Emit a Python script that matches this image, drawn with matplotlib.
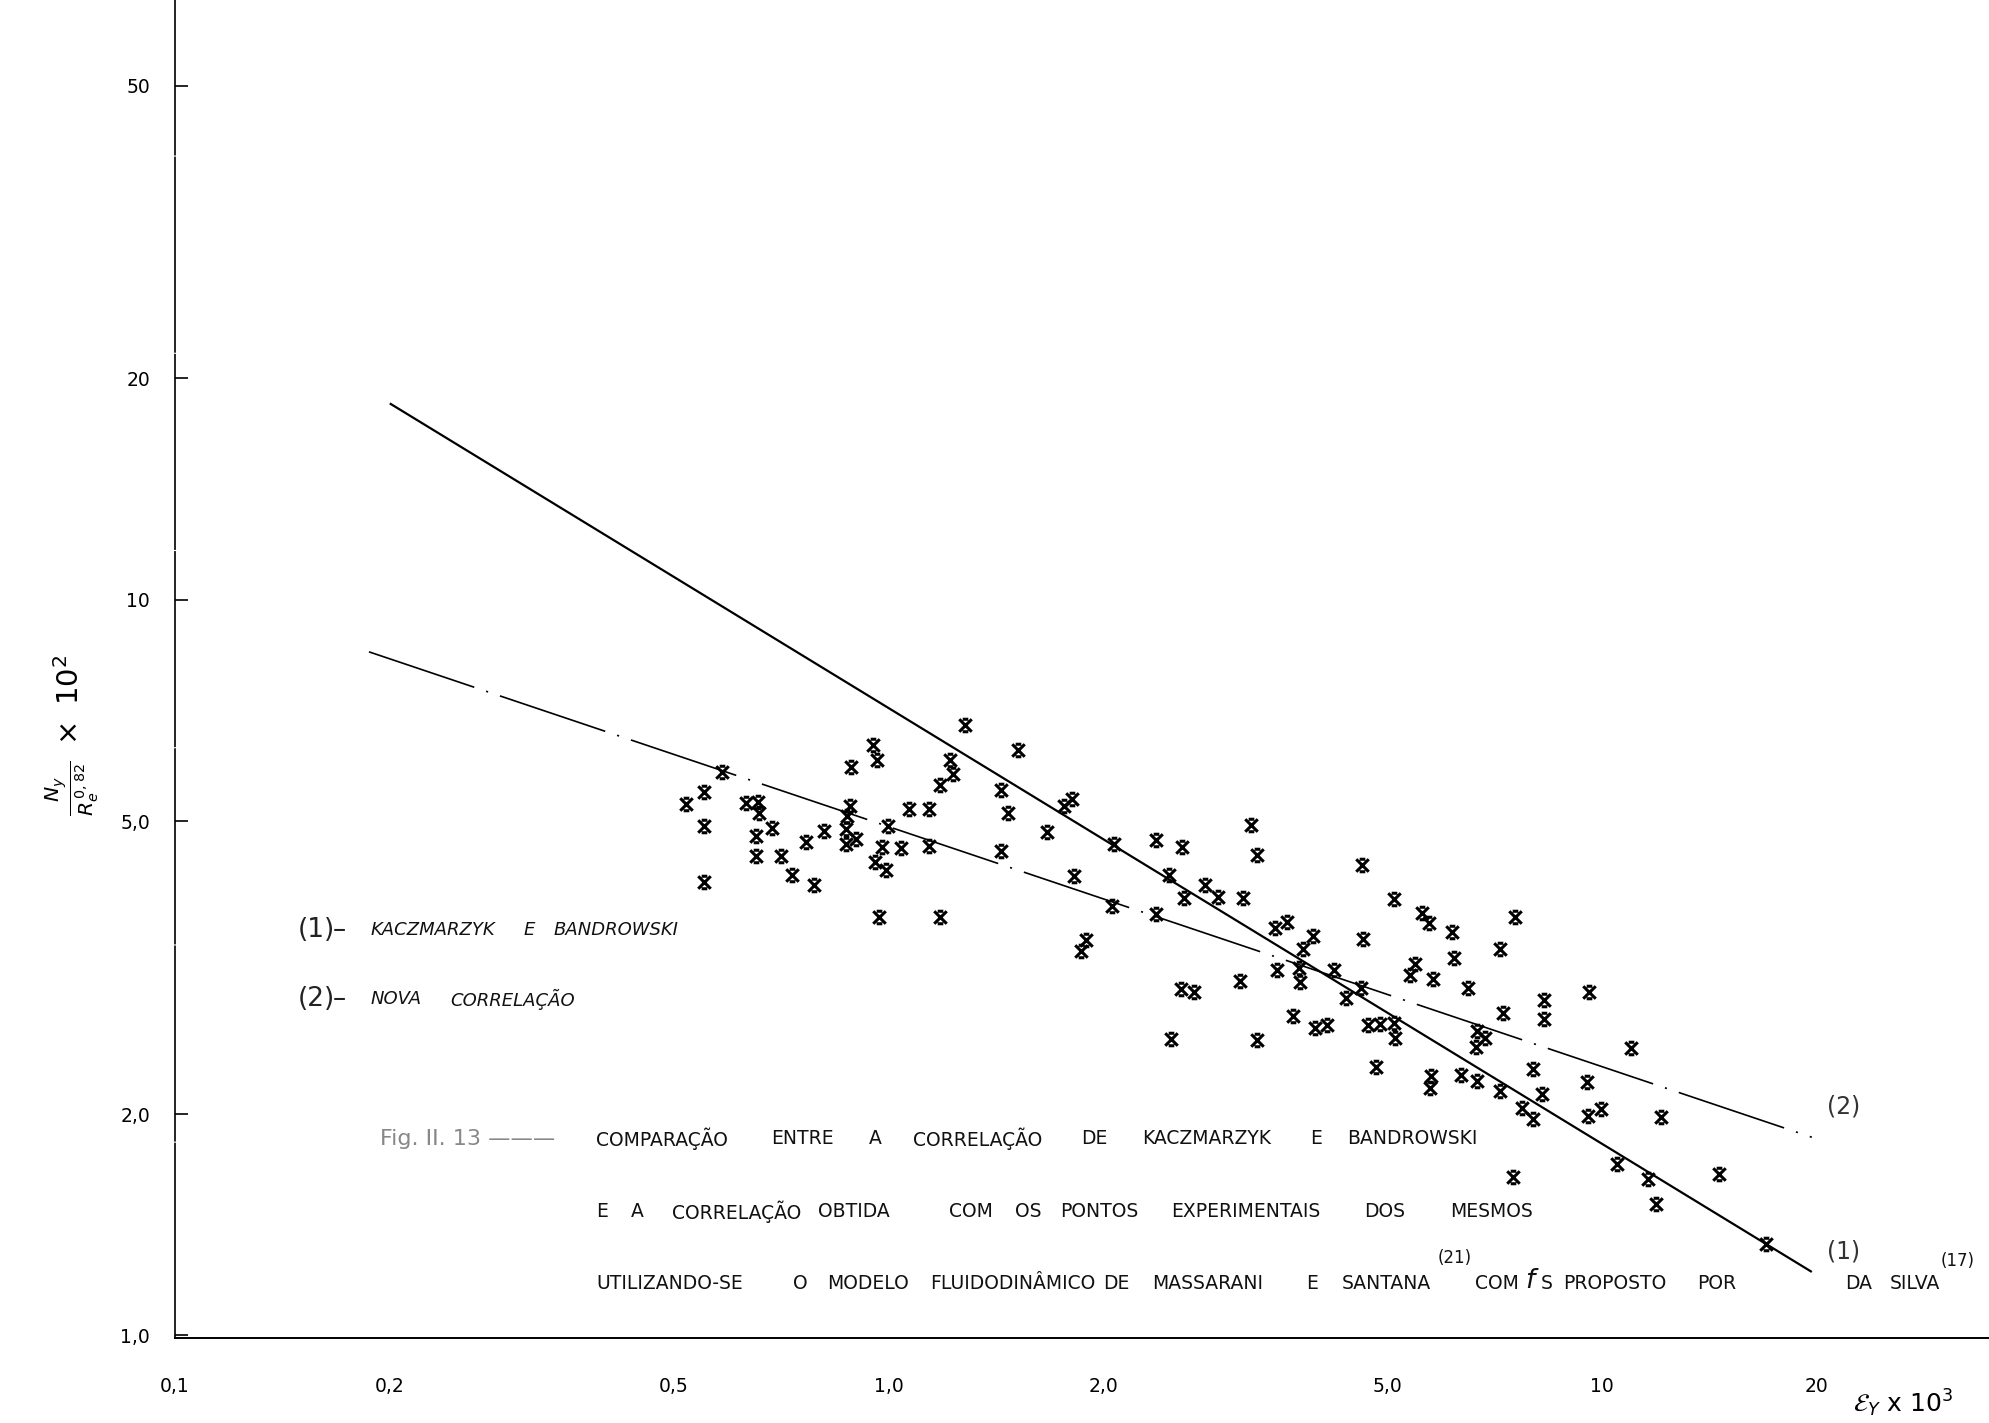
import matplotlib
matplotlib.use("Agg")
import matplotlib.pyplot as plt
from matplotlib.path import Path
from matplotlib.ticker import FixedLocator, NullFormatter, NullLocator

# experimental points: Ey x 10^3  vs  Ny / Re^0.82 x 10^2
eps = [1.28, 0.953, 0.964, 0.887, 1.22, 1.23, 1.52, 1.18, 1.44, 1.47, 1.44,
       0.585, 0.552, 0.520, 0.632, 0.656, 0.658, 0.552, 0.652, 0.687, 0.812,
       0.766, 0.883, 0.875, 0.872, 0.872, 0.901, 1.00, 1.07, 1.14, 0.981,
       1.04, 1.14, 0.958, 0.993, 0.652, 0.706, 0.552, 0.732, 0.786, 0.969, 1.18,
       1.81, 1.76, 1.67, 2.07, 2.37, 2.58, 3.22, 3.29, 1.82, 2.47, 2.78,
       2.60, 2.90, 3.14, 2.06, 2.37, 1.89, 1.86, 4.61, 5.11, 5.60, 5.72,
       3.48, 3.62, 3.94, 4.63, 3.81, 3.50, 3.76, 3.77, 4.22, 4.60, 4.38,
       5.48, 5.39, 5.80, 3.11, 2.57, 2.68, 3.69, 3.96, 4.12, 4.70, 4.89,
       5.11, 5.13, 2.49, 3.29, 4.83, 5.77, 5.74,
       6.16, 7.55, 6.21, 7.19, 6.49, 9.61, 8.29, 8.31, 7.27, 6.68, 6.87,
       6.66, 11.0, 6.34, 6.68, 8.01, 7.19, 8.24, 9.52, 7.74, 8.01, 9.56,
       9.97, 12.1, 10.5, 11.6, 11.9, 14.6, 7.51, 17.0]
ny = [6.76, 6.35, 6.06, 5.92, 6.06, 5.80, 6.25, 5.61, 5.52, 5.14, 4.56,
      5.83, 5.48, 5.28, 5.29, 5.32, 5.13, 4.92, 4.78, 4.89, 4.85,
      4.68, 5.25, 5.09, 4.88, 4.66, 4.73, 4.93, 5.20, 5.20, 4.61,
      4.60, 4.63, 4.40, 4.29, 4.49, 4.49, 4.14, 4.23, 4.10, 3.71, 3.71,
      5.36, 5.24, 4.84, 4.66, 4.72, 4.61, 4.95, 4.50, 4.21, 4.23, 4.10,
      3.93, 3.95, 3.93, 3.83, 3.74, 3.45, 3.33, 4.36, 3.92, 3.75, 3.64,
      3.58, 3.65, 3.49, 3.46, 3.35, 3.14, 3.16, 3.02, 3.14, 2.97, 2.88,
      3.20, 3.09, 3.05, 3.03, 2.96, 2.93, 2.72, 2.62, 2.64, 2.64, 2.65,
      2.66, 2.54, 2.53, 2.52, 2.32, 2.25, 2.17,
      3.54, 3.71, 3.26, 3.35, 2.97, 2.93, 2.86, 2.69, 2.74, 2.59, 2.54,
      2.47, 2.46, 2.26, 2.22, 2.30, 2.15, 2.13, 2.21, 2.04, 1.97, 1.99,
      2.03, 1.98, 1.71, 1.63, 1.51, 1.66, 1.64, 1.33]

# (1) Kaczmarzyk e Bandrowski, (2) nova correlacao
kb_eps = [0.200, 19.7]
kb_ny = [18.5, 1.22]
nova_eps = [0.187, 19.7]
nova_ny = [8.5, 1.86]

x_ticks = [0.1, 0.2, 0.5, 1.0, 2.0, 5.0, 10, 20]
x_tick_labels = ["0,1", "0,2", "0,5", "1,0", "2,0", "5,0", "10", "20"]
y_ticks = [1, 2, 5, 10, 20, 50]
y_tick_labels = ["1,0", "2,0", "5,0", "10", "20", "50"]

plt.rcParams['font.family'] = ['DejaVu Sans']
plt.rcParams['mathtext.fontset'] = 'dejavusans'
plt.rcParams['lines.scale_dashes'] = False

# hand lettered "x": a cross with short bars on top and bottom
xmark = Path([(-1, 1), (1, -1), (-1, -1), (1, 1),
              (-0.45, 1), (0.45, 1), (-0.45, -1), (0.45, -1)],
             [Path.MOVETO, Path.LINETO, Path.MOVETO, Path.LINETO,
              Path.MOVETO, Path.LINETO, Path.MOVETO, Path.LINETO])

fig = plt.figure(figsize=(19.89, 14.23), dpi=100)
ax = fig.add_axes([0.088, 0.0597, 0.912, 0.9403])
ax.set_xscale('log')
ax.set_yscale('log')
ax.set_xlim(0.1025, 34.9)
ax.set_ylim(0.992, 65.4)

ax.plot(kb_eps, kb_ny, color='k', lw=1.6, solid_capstyle='butt')
ax.plot(nova_eps, nova_ny, color='k', lw=1.2,
        linestyle=(0, (80, 9, 1.5, 9)))
ax.plot(eps, ny, linestyle='none', marker=xmark, ms=9, mew=2.2,
        color='k')

ax.text(20.7, 1.30, "(1)", fontsize=17, color='#333', ha='left', va='center')
ax.text(20.7, 2.05, "(2)", fontsize=17, color='#333', ha='left', va='center')

# axes
for s in ['top', 'right']:
    ax.spines[s].set_visible(False)
ax.spines['left'].set_linewidth(1.2)
ax.spines['left'].set_linestyle((0, (140, 2)))
ax.spines['bottom'].set_linewidth(1.4)

ax.set_xticks(x_ticks)
ax.set_xticklabels(x_tick_labels)
ax.xaxis.set_minor_locator(FixedLocator([1, 2, 5]))
ax.xaxis.set_minor_formatter(NullFormatter())
ax.tick_params(axis='x', which='major', length=0, pad=28, labelsize=13.5)
ax.tick_params(axis='x', which='minor', direction='in', length=11, width=1.1)

ax.set_yticks(y_ticks)
ax.set_yticklabels(y_tick_labels)
ax.yaxis.set_minor_locator(NullLocator())
ax.tick_params(axis='y', which='major', direction='in', length=9, width=1.2,
               pad=18, labelsize=13.5)

# axis titles
fig.text(0.036, 0.483, r'$\frac{N_y}{R_e^{\,0,82}}\ \times\ 10^{2}$',
         rotation=90, fontsize=21, ha='center', va='center')
fig.text(0.957, 0.014, r'$\mathcal{E}_{Y}\ \mathrm{x}\ 10^{3}$',
         fontsize=18, ha='center', va='center')

# legend
def put_words(words, y, size, style='normal', color='#111'):
    for w, x in words:
        fig.text(x, y, w, fontsize=size, fontstyle=style, color=color,
                 ha='left', va='center')

put_words([("(1)", 0.1499), ("–", 0.1671)], 0.3467, 19, color='#222')
put_words([("KACZMARZYK", 0.1862), ("E", 0.2634), ("BANDROWSKI", 0.2781)],
          0.3467, 13, style='italic')
put_words([("(2)", 0.1499), ("–", 0.1671)], 0.2977, 19, color='#222')
put_words([("NOVA", 0.1862), ("CORRELAÇÃO", 0.2264)], 0.2977, 13,
          style='italic')

# caption
fig.text(0.1913, 0.1997, "Fig. II. 13 ———", fontsize=16, color='#888',
         ha='left', va='center')
put_words([("COMPARAÇÃO", 0.2997), ("ENTRE", 0.3878), ("A", 0.4369),
           ("CORRELAÇÃO", 0.4592), ("DE", 0.5434), ("KACZMARZYK", 0.5740),
           ("E", 0.6588), ("BANDROWSKI", 0.6773)], 0.1997, 13.5)
put_words([("E", 0.2997), ("A", 0.3170), ("CORRELAÇÃO", 0.3380),
           ("OBTIDA", 0.4114), ("COM", 0.4770), ("OS", 0.5102),
           ("PONTOS", 0.5332), ("EXPERIMENTAIS", 0.5887), ("DOS", 0.6856),
           ("MESMOS", 0.7290)], 0.1488, 13.5)
put_words([("UTILIZANDO-SE", 0.2997), ("O", 0.3986), ("MODELO", 0.4158),
           ("FLUIDODINÂMICO", 0.4675), ("DE", 0.5548), ("MASSARANI", 0.5791),
           ("E", 0.6569), ("SANTANA", 0.6747), ("COM", 0.7417),
           ("PROPOSTO", 0.7857), ("POR", 0.8533), ("DA", 0.9279),
           ("SILVA", 0.9503)], 0.0980, 13.5)
put_words([("(21)", 0.7226)], 0.116, 12)
put_words([("(17)", 0.9758)], 0.114, 12)
put_words([("f", 0.7666)], 0.100, 19, style='italic')
put_words([("S", 0.7746)], 0.0980, 13.5)

fig.savefig("out.png", dpi=100, facecolor='white')
